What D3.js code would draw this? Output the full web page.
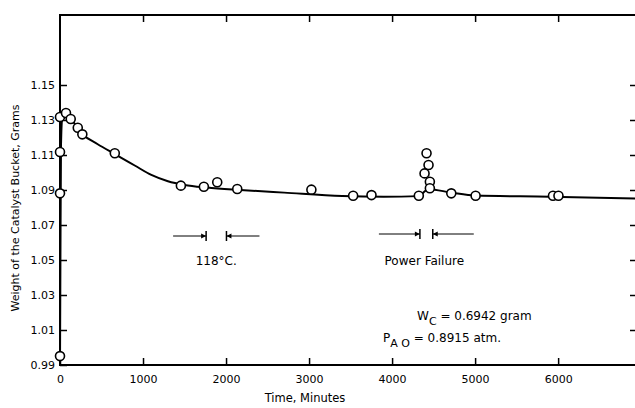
<!DOCTYPE html>
<html>
<head>
<meta charset="utf-8">
<script src="https://cdn.jsdelivr.net/npm/d3@7"></script>
<style>
    body { margin: 0; background: #fff; }
    svg text { font-family: "DejaVu Sans", sans-serif; fill: #000; }
</style>
</head>
<body>
<div id="chart"></div>
<script>
// Measured points (minutes, grams)
const pointTime = [0, 0, 0, 0, 72, 129, 214, 269, 660, 1456, 1733, 1894, 2135, 3028, 3531, 3752,
    4322, 4415, 4439, 4391, 4455, 4455, 4713, 5006, 5938, 6004];
const pointWeight = [0.9951, 1.0881, 1.1117, 1.1317, 1.134, 1.1306, 1.1256, 1.1218, 1.111, 1.0925, 1.0919, 1.0944, 1.0906, 1.0902, 1.0867, 1.0871,
    1.0867, 1.111, 1.1043, 1.0995, 1.0947, 1.091, 1.0881, 1.0867, 1.0867, 1.0867];

// Smoothed curve drawn through the data
const curveTime = [0, 5, 12, 25, 70, 150, 270, 450, 660, 900, 1100, 1300, 1500, 1770, 2171, 2700,
    3400, 3900, 4322, 4400, 4440, 4713, 5006, 5900, 6950];
const curveWeight = [0.99, 1.05, 1.115, 1.13, 1.1335, 1.1295, 1.122, 1.1163, 1.1105, 1.1040, 1.0986, 1.0950, 1.0929, 1.0914, 1.09, 1.0885,
    1.0866, 1.0862, 1.0865, 1.0895, 1.0905, 1.0885, 1.0868, 1.0862, 1.0851];

// Axis ticks
const xTicks = [0, 1000, 2000, 3000, 4000, 5000, 6000];
const yTicks = [0.99, 1.01, 1.03, 1.05, 1.07, 1.09, 1.11, 1.13, 1.15];

// Marked intervals (start, end in minutes)
const tempInterval = [1760, 2005];
const powerInterval = [4335, 4490];

const width = 635, height = 408;
const margin = {top: 15, left: 60, bottom: 43, right: -2};

const svg = d3.select("#chart").append("svg")
    .attr("width", width)
    .attr("height", height);

const x = d3.scaleLinear()
    .domain([0, 6950])
    .range([margin.left, width - margin.right]);
const y = d3.scaleLinear()
    .domain([0.99, 1.19])
    .range([height - margin.bottom, margin.top]);

const fmtY = d3.format(".2f");

//Frame
svg.append("rect")
    .attr("x", x(0))
    .attr("y", y(1.19))
    .attr("width", x(6950) - x(0))
    .attr("height", y(0.99) - y(1.19))
    .attr("fill", "none")
    .attr("stroke", "#000")
    .attr("stroke-width", 2);

//Axes, ticks pointing in
svg.append("g")
    .attr("transform", "translate(0," + y(0.99) + ")")
    .call(d3.axisBottom(x).tickValues(xTicks).tickSizeInner(-7).tickSizeOuter(0).tickPadding(10).tickFormat(d3.format("d")))
    .call(g => g.select(".domain").remove())
    .call(g => g.selectAll("text").style("font-size", "11px").attr("font-family", null));
svg.append("g")
    .attr("transform", "translate(0," + y(1.19) + ")")
    .call(d3.axisTop(x).tickValues(xTicks.slice(1)).tickSizeInner(-7).tickSizeOuter(0).tickFormat(""))
    .call(g => g.select(".domain").remove());
svg.append("g")
    .attr("transform", "translate(" + x(0) + ",0)")
    .call(d3.axisLeft(y).tickValues(yTicks).tickSizeInner(-7).tickSizeOuter(0).tickPadding(5).tickFormat(fmtY))
    .call(g => g.select(".domain").remove())
    .call(g => g.selectAll("text").style("font-size", "11px").attr("font-family", null));
svg.append("g")
    .attr("transform", "translate(" + x(6950) + ",0)")
    .call(d3.axisRight(y).tickValues(yTicks.slice(1)).tickSizeInner(-7).tickSizeOuter(0).tickFormat(""))
    .call(g => g.select(".domain").remove());
svg.selectAll(".tick line").attr("stroke-width", 1.5);

//Axis titles
svg.append("text")
    .attr("x", 305)
    .attr("y", 402)
    .attr("text-anchor", "middle")
    .style("font-size", "11.5px")
    .text("Time, Minutes");
svg.append("text")
    .attr("transform", "translate(19,208) rotate(-90)")
    .attr("text-anchor", "middle")
    .style("font-size", "11px")
    .text("Weight of the Catalyst Bucket, Grams");

//Curve
const line = d3.line()
    .x((d, i) => x(curveTime[i]))
    .y((d, i) => y(curveWeight[i]))
    .curve(d3.curveMonotoneX);
svg.append("path")
    .datum(curveTime)
    .attr("d", line)
    .attr("fill", "none")
    .attr("stroke", "#000")
    .attr("stroke-width", 2);

//Points
svg.selectAll(".pt")
    .data(pointTime)
    .enter()
    .append("circle")
    .attr("class", "pt")
    .attr("cx", d => x(d))
    .attr("cy", (d, i) => y(pointWeight[i]))
    .attr("r", 4.5)
    .attr("fill", "#fff")
    .attr("stroke", "#000")
    .attr("stroke-width", 1.6);

//Interval markers  --->| |<---
function intervalMark(iv, yPos, len) {
    const g = svg.append("g").attr("stroke", "#000").attr("fill", "#000");
    const a = x(iv[0]), b = x(iv[1]);
    g.append("line").attr("x1", a - len).attr("x2", a).attr("y1", yPos).attr("y2", yPos).attr("stroke-width", 1);
    g.append("line").attr("x1", b).attr("x2", b + len).attr("y1", yPos).attr("y2", yPos).attr("stroke-width", 1);
    g.append("line").attr("x1", a).attr("x2", a).attr("y1", yPos - 5).attr("y2", yPos + 5).attr("stroke-width", 1.5);
    g.append("line").attr("x1", b).attr("x2", b).attr("y1", yPos - 5).attr("y2", yPos + 5).attr("stroke-width", 1.5);
    g.append("path").attr("d", "M" + a + "," + yPos + "l-5,-2.5v5z").attr("stroke", "none");
    g.append("path").attr("d", "M" + b + "," + yPos + "l5,-2.5v5z").attr("stroke", "none");
}
intervalMark(tempInterval, 236, 33);
intervalMark(powerInterval, 234, 41);

svg.append("text")
    .attr("x", x(d3.mean(tempInterval)))
    .attr("y", 265)
    .attr("text-anchor", "middle")
    .style("font-size", "12px")
    .text("118°C.");
svg.append("text")
    .attr("x", x(d3.mean(powerInterval)) - 2)
    .attr("y", 265)
    .attr("text-anchor", "middle")
    .style("font-size", "12px")
    .text("Power Failure");

//Conditions
const wc = svg.append("text").attr("x", 417).attr("y", 320).style("font-size", "12px");
wc.append("tspan").text("W");
wc.append("tspan").attr("dy", 5).style("font-size", "11px").text("C");
wc.append("tspan").attr("dy", -5).text(" = 0.6942 gram");
const pao = svg.append("text").attr("x", 383).attr("y", 342).style("font-size", "12px");
pao.append("tspan").text("P");
pao.append("tspan").attr("dy", 5).style("font-size", "11px").text("A O");
pao.append("tspan").attr("dy", -5).text(" = 0.8915 atm.");
</script>
</body>
</html>
